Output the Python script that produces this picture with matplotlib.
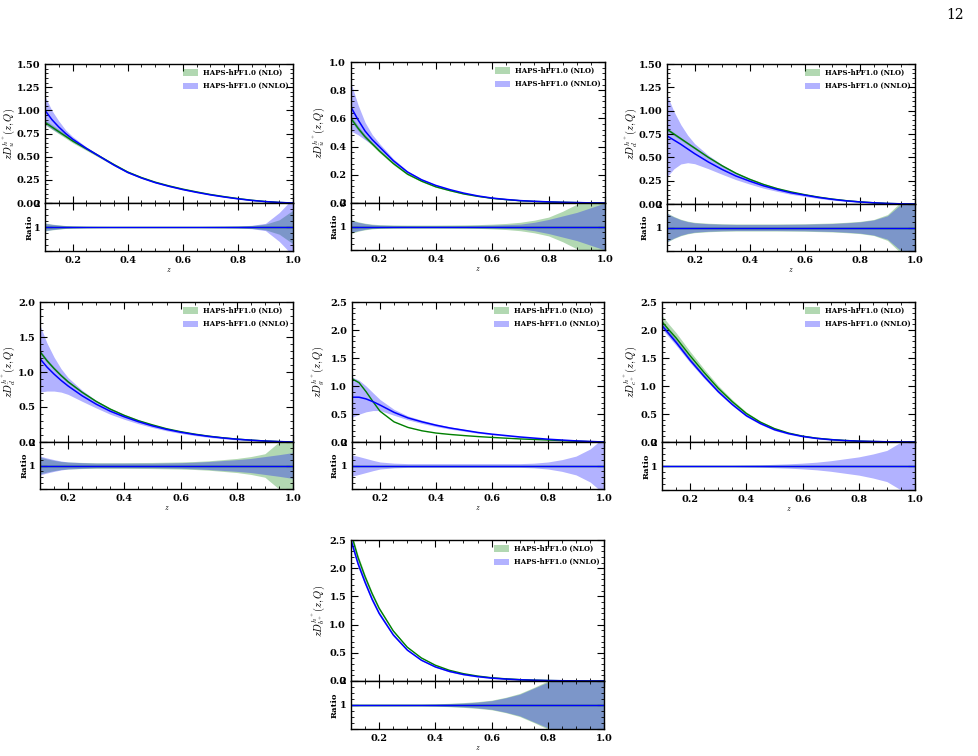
import matplotlib
matplotlib.use("Agg")
import matplotlib.pyplot as plt
import numpy as np
from matplotlib.ticker import MultipleLocator, AutoMinorLocator, FixedLocator
from matplotlib.patches import Patch

plt.rcParams['font.family'] = ['DejaVu Serif']
plt.rcParams['mathtext.fontset'] = 'cm'

z = [0.1, 0.125, 0.15, 0.175, 0.2, 0.25, 0.3, 0.35, 0.4, 0.45, 0.5, 0.55, 0.6, 0.65, 0.7, 0.75, 0.8, 0.85, 0.9, 0.95, 1.0]

labels = [r'$zD_{u}^{h^{+}}(z,Q)$', r'$zD_{\bar{u}}^{h^{+}}(z,Q)$', r'$zD_{d}^{h^{+}}(z,Q)$',
          r'$zD_{\bar{d}}^{h^{+}}(z,Q)$', r'$zD_{g}^{h^{+}}(z,Q)$', r'$zD_{c^{+}}^{h^{+}}(z,Q)$',
          r'$zD_{b^{+}}^{h^{+}}(z,Q)$']

ymax = [1.5, 1.0, 1.5, 2.0, 2.5, 2.5, 2.5]
ystep = [0.25, 0.2, 0.25, 0.5, 0.5, 0.5, 0.5]

# u
nnlo_u = [1.00, 0.90, 0.82, 0.75, 0.69, 0.59, 0.50, 0.41, 0.33, 0.27, 0.22, 0.18, 0.145, 0.115, 0.088, 0.065, 0.045, 0.028, 0.015, 0.006, 0.0]
nlo_u = [0.87, 0.82, 0.77, 0.72, 0.67, 0.585, 0.50, 0.415, 0.335, 0.275, 0.225, 0.185, 0.15, 0.12, 0.092, 0.069, 0.048, 0.030, 0.016, 0.006, 0.0]
nnlo_err_u = [0.15, 0.11, 0.08, 0.05, 0.04, 0.025, 0.02, 0.02, 0.02, 0.02, 0.02, 0.02, 0.02, 0.02, 0.025, 0.03, 0.04, 0.07, 0.15, 0.6, 1.2]
nlo_err_u = [0.17, 0.12, 0.09, 0.06, 0.045, 0.03, 0.025, 0.02, 0.02, 0.02, 0.02, 0.02, 0.02, 0.02, 0.025, 0.03, 0.04, 0.06, 0.12, 0.3, 0.7]
# ubar
nnlo_ub = [0.68, 0.59, 0.51, 0.45, 0.40, 0.30, 0.22, 0.165, 0.125, 0.095, 0.07, 0.05, 0.035, 0.025, 0.017, 0.012, 0.008, 0.005, 0.003, 0.001, 0.0]
nlo_ub = [0.60, 0.53, 0.47, 0.42, 0.37, 0.28, 0.205, 0.155, 0.115, 0.088, 0.064, 0.047, 0.033, 0.024, 0.016, 0.011, 0.008, 0.005, 0.003, 0.001, 0.0]
nnlo_err_ub = [0.25, 0.18, 0.12, 0.08, 0.06, 0.045, 0.04, 0.035, 0.035, 0.035, 0.04, 0.05, 0.06, 0.08, 0.1, 0.18, 0.3, 0.45, 0.6, 0.8, 1.0]
nlo_err_ub = [0.3, 0.2, 0.14, 0.1, 0.08, 0.065, 0.06, 0.06, 0.06, 0.065, 0.07, 0.08, 0.1, 0.13, 0.18, 0.27, 0.4, 0.65, 0.95, 1.2, 1.5]
# d
nnlo_d = [0.73, 0.685, 0.64, 0.59, 0.54, 0.45, 0.37, 0.30, 0.245, 0.195, 0.155, 0.12, 0.095, 0.07, 0.05, 0.034, 0.022, 0.013, 0.006, 0.002, 0.0]
nlo_d = [0.80, 0.75, 0.70, 0.65, 0.60, 0.50, 0.41, 0.33, 0.265, 0.21, 0.165, 0.13, 0.10, 0.074, 0.053, 0.036, 0.023, 0.013, 0.006, 0.002, 0.0]
nnlo_err_d = [0.6, 0.45, 0.33, 0.25, 0.2, 0.16, 0.14, 0.13, 0.13, 0.13, 0.13, 0.135, 0.14, 0.155, 0.17, 0.2, 0.24, 0.32, 0.5, 1.0, 1.3]
nlo_err_d = [0.62, 0.47, 0.35, 0.27, 0.22, 0.18, 0.16, 0.15, 0.15, 0.15, 0.15, 0.155, 0.16, 0.175, 0.19, 0.22, 0.26, 0.34, 0.55, 1.1, 1.4]
# dbar
nnlo_db = [1.19, 1.07, 0.97, 0.88, 0.80, 0.66, 0.54, 0.44, 0.36, 0.29, 0.23, 0.18, 0.14, 0.107, 0.08, 0.058, 0.04, 0.026, 0.014, 0.006, 0.0]
nlo_db = [1.29, 1.16, 1.05, 0.95, 0.86, 0.71, 0.58, 0.47, 0.38, 0.305, 0.245, 0.19, 0.148, 0.113, 0.084, 0.061, 0.042, 0.027, 0.015, 0.006, 0.0]
nnlo_err_db = [0.4, 0.32, 0.25, 0.19, 0.15, 0.12, 0.1, 0.1, 0.1, 0.1, 0.1, 0.11, 0.12, 0.14, 0.17, 0.21, 0.25, 0.3, 0.38, 0.46, 0.55]
nlo_err_db = [0.36, 0.28, 0.22, 0.17, 0.15, 0.13, 0.12, 0.12, 0.12, 0.125, 0.13, 0.14, 0.15, 0.17, 0.2, 0.25, 0.3, 0.38, 0.5, 1.0, 1.3]
# g
nnlo_g = [0.80, 0.80, 0.77, 0.72, 0.66, 0.53, 0.43, 0.36, 0.30, 0.25, 0.21, 0.17, 0.14, 0.115, 0.09, 0.07, 0.05, 0.035, 0.02, 0.01, 0.0]
nlo_g = [1.13, 1.06, 0.90, 0.72, 0.55, 0.36, 0.26, 0.20, 0.16, 0.135, 0.115, 0.097, 0.082, 0.068, 0.055, 0.045, 0.035, 0.025, 0.015, 0.007, 0.0]
nnlo_err_g = [0.45, 0.38, 0.3, 0.22, 0.15, 0.1, 0.08, 0.08, 0.08, 0.08, 0.08, 0.08, 0.08, 0.08, 0.08, 0.1, 0.15, 0.25, 0.4, 0.7, 1.2]
nlo_err_g = [0.01] * 21
# c+
nnlo_c = [2.08, 1.93, 1.78, 1.62, 1.46, 1.17, 0.90, 0.67, 0.47, 0.33, 0.22, 0.15, 0.10, 0.065, 0.042, 0.026, 0.015, 0.009, 0.004, 0.002, 0.0]
nlo_c = [2.15, 2.00, 1.86, 1.70, 1.54, 1.24, 0.96, 0.72, 0.51, 0.355, 0.24, 0.16, 0.105, 0.068, 0.045, 0.028, 0.016, 0.009, 0.004, 0.002, 0.0]
nnlo_err_c = [0.03, 0.03, 0.03, 0.03, 0.03, 0.03, 0.03, 0.03, 0.04, 0.05, 0.07, 0.09, 0.12, 0.16, 0.22, 0.3, 0.38, 0.5, 0.65, 1.0, 1.3]
nlo_err_c = [0.05] * 21
# b+
nnlo_b = [2.5, 2.08, 1.75, 1.45, 1.2, 0.82, 0.55, 0.37, 0.25, 0.17, 0.115, 0.078, 0.052, 0.035, 0.022, 0.014, 0.008, 0.005, 0.002, 0.001, 0.0]
nlo_b = [2.62, 2.19, 1.85, 1.55, 1.29, 0.89, 0.60, 0.41, 0.28, 0.19, 0.13, 0.088, 0.058, 0.039, 0.025, 0.015, 0.009, 0.005, 0.002, 0.001, 0.0]
nnlo_err_b = [0.03, 0.03, 0.03, 0.03, 0.03, 0.03, 0.03, 0.03, 0.04, 0.06, 0.08, 0.12, 0.18, 0.3, 0.45, 0.7, 0.95, 1.1, 1.3, 1.4, 1.5]
nlo_err_b = [0.04, 0.04, 0.04, 0.04, 0.04, 0.04, 0.04, 0.04, 0.05, 0.07, 0.1, 0.14, 0.2, 0.32, 0.48, 0.73, 1.0, 1.15, 1.35, 1.45, 1.55]

nnlo_all = [nnlo_u, nnlo_ub, nnlo_d, nnlo_db, nnlo_g, nnlo_c, nnlo_b]
nlo_all = [nlo_u, nlo_ub, nlo_d, nlo_db, nlo_g, nlo_c, nlo_b]
nnlo_err_all = [nnlo_err_u, nnlo_err_ub, nnlo_err_d, nnlo_err_db, nnlo_err_g, nnlo_err_c, nnlo_err_b]
# ratio-panel NLO band (relative) and main-panel NLO band (relative)
nlo_err_all = [nlo_err_u, nlo_err_ub, nlo_err_d, nlo_err_db, nlo_err_g, nlo_err_c, nlo_err_b]
nlo_main_err = [0.03, 0.03, 0.02, 0.02, 0.01, 0.05, 0.02]
nlo_ratio_band = [True, True, True, True, False, False, True]

# layout in pixels: (left, right, main_top, main_bottom, ratio_bottom)
W, H = 979, 756
boxes = [(45, 293, 64, 203, 251), (351, 605, 62, 203, 250), (667, 915, 64, 204, 251),
         (40, 293, 302, 442, 489), (352, 604, 302, 442, 489), (662, 915, 302, 442, 490),
         (351, 604, 540, 681, 729)]
# label anchor offsets from the axes' left edge, pixels
main_lab_off = [-28, -24, -28, -23, -25, -23, -24]
ratio_lab_off = [-11, -12, -18, -11, -13, -11, -12]

fig = plt.figure(figsize=(W / 100, H / 100), dpi=100)

GREEN = 'green'
BLUE = 'blue'
fs = 7


def style(ax, xlabels):
    ax.tick_params(which='both', direction='in', top=True, right=True, labelsize=fs)
    ax.tick_params(which='major', length=5, width=0.8)
    ax.tick_params(which='minor', length=2.5, width=0.6)
    ax.set_xlim(0.1, 1.0)
    ax.xaxis.set_major_locator(MultipleLocator(0.2))
    ax.xaxis.set_minor_locator(MultipleLocator(0.05))
    if not xlabels:
        ax.tick_params(labelbottom=False)
    for s in ax.spines.values():
        s.set_linewidth(1.0)


for i in range(7):
    l, r, t, mb, rb = boxes[i]
    wpx = r - l
    axm = fig.add_axes([l / W, 1 - mb / H, wpx / W, (mb - t) / H])
    axr = fig.add_axes([l / W, 1 - rb / H, wpx / W, (rb - mb) / H])
    zz = np.array(z)
    c1 = np.array(nlo_all[i]); c2 = np.array(nnlo_all[i])
    e1 = np.array(nlo_err_all[i]); e2 = np.array(nnlo_err_all[i])
    em = nlo_main_err[i]

    axm.fill_between(zz, c1 * (1 - em), c1 * (1 + em), color=GREEN, alpha=0.3, lw=0)
    axm.fill_between(zz, c2 * (1 - e2), c2 * (1 + e2), color=BLUE, alpha=0.3, lw=0)
    axm.plot(zz, c1, color=GREEN, lw=1.0)
    axm.plot(zz, c2, color=BLUE, lw=1.1)
    axm.axhline(0, color='gray', lw=0.6, ls='--')
    axm.set_ylim(0, ymax[i])
    axm.yaxis.set_major_locator(MultipleLocator(ystep[i]))
    axm.yaxis.set_minor_locator(AutoMinorLocator(5))
    style(axm, False)
    for lab in axm.get_yticklabels():
        lab.set_fontweight('bold')
    axm.set_ylabel(labels[i], fontsize=7.5)
    axm.yaxis.set_label_coords(main_lab_off[i] / wpx, 0.5)
    axm.legend(handles=[Patch(facecolor=GREEN, alpha=0.3, lw=0, label='HAPS-hFF1.0 (NLO)'),
                        Patch(facecolor=BLUE, alpha=0.3, lw=0, label='HAPS-hFF1.0 (NNLO)')],
               loc='upper right', frameon=False, prop=dict(size=5, weight='bold'),
               handlelength=2.2, handleheight=1.0, handletextpad=0.6,
               borderaxespad=0.3, labelspacing=0.75)

    if nlo_ratio_band[i]:
        axr.fill_between(zz, 1 - e1, 1 + e1, color=GREEN, alpha=0.3, lw=0)
    axr.fill_between(zz, 1 - e2, 1 + e2, color=BLUE, alpha=0.3, lw=0)
    axr.plot(zz, np.ones_like(zz), color=GREEN, lw=1.0)
    axr.plot(zz, np.ones_like(zz), color=BLUE, lw=1.0)
    axr.set_ylim(0, 2)
    axr.yaxis.set_major_locator(FixedLocator([0, 1, 2]))
    axr.yaxis.set_minor_locator(MultipleLocator(0.25))
    axr.set_yticklabels(['', '1', '2'])
    style(axr, True)
    for lab in axr.get_xticklabels() + axr.get_yticklabels():
        lab.set_fontweight('bold')
    axr.set_ylabel('Ratio', fontsize=fs - 1, fontweight='bold')
    axr.yaxis.set_label_coords(ratio_lab_off[i] / wpx, 0.5)
    axr.set_xlabel(r'$z$', fontsize=fs - 1.5, labelpad=1)

fig.text(955 / W, 1 - 15 / H, '12', fontsize=10, ha='center', va='center', family='DejaVu Serif')

fig.savefig('out.png', dpi=100)
